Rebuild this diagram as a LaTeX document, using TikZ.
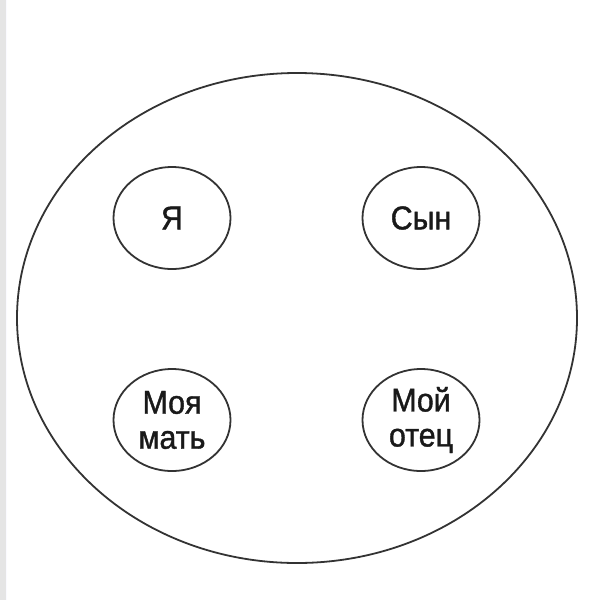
\documentclass[tikz,border=0pt]{standalone}
\usepackage{fontspec}
\setmainfont{Liberation Sans}
\newfontfamily\labelfont[FakeStretch=0.92,FakeBold=1.2]{Liberation Sans}
\usepackage{tikz}
\usetikzlibrary{shapes.geometric}

\begin{document}
\begin{tikzpicture}[x=1pt,y=-1pt,
  member/.style={draw=black!80, line width=1.8pt, ellipse, inner sep=0pt,
    minimum width=117pt, minimum height=102pt, align=center,
    font=\labelfont\fontsize{33}{35}\selectfont, text=black!90},
  node distance=249pt]
\useasboundingbox (0,0) rectangle (607,600);
\fill[black!4!blue!2!white] (0,0) rectangle (7,600);
\fill[black!10] (0,0) rectangle (6,600);

\node (family) [draw=black!80, line width=1.8pt, ellipse, inner sep=0pt,
  minimum width=560pt, minimum height=490pt] at (297,318) {};

\node (I) [member] at (172,218) {Я};
\node (S) [member, right of = I] {Сын};
\node (M) [member, below of = I, node distance=202pt] {Моя\\мать};
\node (F) [member, below of = S, node distance=202pt] {Мой\\отец};

\end{tikzpicture}
\end{document}
